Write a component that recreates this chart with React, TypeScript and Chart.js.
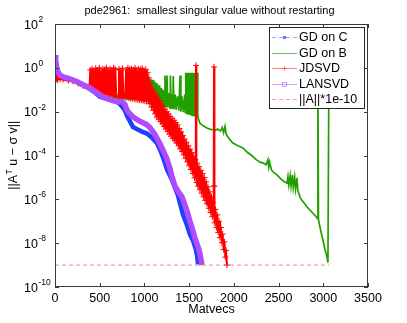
import React, { useEffect, useRef } from "react";
import { Chart, registerables } from "chart.js";

Chart.register(...registerables);

const FONT = "'Liberation Sans', Arial, Helvetica, sans-serif";

const chartTitle = "pde2961:  smallest singular value without restarting";
const xAxisTitle = "Matvecs";
const xTickValues = [0, 500, 1000, 1500, 2000, 2500, 3000, 3500];
const yTickExponents = [2, 0, -2, -4, -6, -8, -10];
const legendLabels = ["GD on C", "GD on B", "JDSVD", "LANSVD", "||A||*1e-10"];

type Pt = [number, number];

// GD on C : [matvecs, residual norm]
const gdOnC: Pt[] = [
  [0, 3.8], [8, 2.0], [20, 1.0], [34, 0.65], [56, 0.46], [90, 0.39], [150, 0.32], [201, 0.27],
  [260, 0.21], [313, 0.16], [391, 0.11], [447, 0.075], [503, 0.048], [560, 0.04], [648, 0.032],
  [700, 0.027], [727, 0.022], [760, 0.015], [783, 0.011], [805, 0.0065], [840, 0.0035], [872, 0.002],
  [930, 0.0015], [980, 0.0012], [1029, 0.001], [1085, 6.5e-4], [1140, 3.6e-4], [1175, 1.8e-4],
  [1207, 8.5e-5], [1252, 2.3e-5], [1308, 7.6e-6], [1340, 3.5e-6], [1375, 1.5e-6], [1400, 6e-7],
  [1431, 2e-7], [1476, 6.6e-8], [1509, 2.5e-8], [1543, 1.3e-8], [1570, 6e-9], [1588, 2.8e-9], [1600, 1.1e-9],
];

// GD on B
const gdOnB: Pt[] = [
  [0, 0.45], [20, 0.4], [56, 0.37], [150, 0.3], [246, 0.2], [313, 0.14], [391, 0.1], [470, 0.07],
  [560, 0.05], [650, 0.045], [750, 0.04], [850, 0.038], [950, 0.036], [1029, 0.034],
  [1033, 0.3], [1038, 0.032], [1042, 0.35], [1047, 0.03], [1051, 0.3], [1056, 0.029], [1060, 0.32],
  [1065, 0.028], [1069, 0.27], [1074, 0.027], [1078, 0.3], [1083, 0.026], [1087, 0.25], [1092, 0.025],
  [1096, 0.28], [1101, 0.025], [1105, 0.22], [1110, 0.024], [1114, 0.24], [1119, 0.023], [1123, 0.2],
  [1128, 0.023], [1132, 0.21], [1137, 0.022], [1141, 0.18], [1146, 0.021], [1150, 0.17], [1160, 0.02],
  [1170, 0.16], [1180, 0.019], [1190, 0.12], [1200, 0.018], [1210, 0.1], [1220, 0.017], [1230, 0.45],
  [1240, 0.016], [1252, 0.45], [1262, 0.015], [1272, 0.07], [1286, 0.014], [1290, 0.45], [1300, 0.014],
  [1310, 0.06], [1319, 0.013], [1322, 0.42], [1332, 0.013], [1345, 0.06], [1355, 0.012], [1370, 0.05],
  [1385, 0.011], [1398, 0.45], [1408, 0.01], [1420, 0.05], [1435, 0.0095], [1450, 0.06], [1458, 0.009],
  [1462, 0.6], [1466, 0.0088], [1470, 0.55], [1474, 0.0085], [1478, 0.6], [1482, 0.0083], [1486, 0.5],
  [1490, 0.008], [1494, 0.6], [1498, 0.0078], [1502, 0.58], [1506, 0.0076], [1510, 0.6], [1514, 0.0074],
  [1518, 0.55], [1522, 0.0072], [1526, 0.6], [1530, 0.007], [1534, 0.5], [1538, 0.0069], [1542, 0.6],
  [1546, 0.0068], [1550, 0.58], [1554, 0.0066], [1558, 0.6], [1562, 0.0065], [1566, 0.55], [1570, 0.0063],
  [1574, 0.6], [1578, 0.0062], [1582, 0.5], [1586, 0.006], [1590, 0.6], [1594, 0.0058], [1597, 0.55],
  [1599, 0.0056], [1621, 0.003],
  [1660, 0.0022], [1700, 0.0018], [1730, 0.0016], [1766, 0.0015], [1790, 0.0014], [1820, 0.0016],
  [1850, 0.0013], [1870, 0.0019], [1885, 0.0011], [1901, 0.0021], [1915, 0.0009], [1935, 0.0007],
  [1960, 0.0005], [1990, 0.00037], [2030, 0.0003], [2070, 0.00025], [2102, 0.00022], [2150, 0.00014],
  [2200, 0.0001], [2250, 6.5e-5], [2292, 5e-5], [2330, 4.5e-5], [2360, 3.8e-5], [2381, 6.5e-5],
  [2390, 3e-5], [2400, 5e-5], [2420, 2.2e-5], [2450, 1.6e-5], [2482, 1.3e-5], [2520, 9e-6],
  [2560, 6.5e-6], [2594, 5.5e-6], [2605, 1.1e-5], [2615, 4.5e-6], [2630, 1.2e-5], [2640, 4e-6],
  [2655, 1.3e-5], [2665, 3.5e-6], [2680, 1e-5], [2690, 3e-6], [2706, 9.5e-6], [2715, 2.5e-6],
  [2739, 1.3e-6], [2760, 9e-7], [2790, 6.5e-7], [2820, 4.5e-7], [2851, 3.2e-7], [2890, 2.2e-7],
  [2920, 1.6e-7], [2935, 1.3e-7], [2940, 1.0], [2946, 1.2e-7], [2970, 4e-8], [2996, 1.4e-8],
  [3020, 5e-9], [3040, 2.5e-9], [3052, 1.3e-9], [3063, 1.0],
];

// JDSVD
const jdsvd: Pt[] = [
  [0, 0.9], [5, 0.35], [10, 0.7], [15, 0.3], [22, 0.55], [30, 0.3], [40, 0.42], [56, 0.3], [90, 0.29],
  [150, 0.26], [201, 0.24], [260, 0.19], [313, 0.15], [360, 0.13], [385, 0.12],
  [395, 0.8], [405, 0.1], [415, 0.9], [425, 0.095], [435, 0.75], [445, 0.09], [455, 0.95], [465, 0.085],
  [475, 0.8], [485, 0.08], [495, 1.0], [505, 0.078], [515, 0.7], [525, 0.075], [535, 0.9], [545, 0.07],
  [555, 0.85], [565, 0.065], [575, 1.0], [585, 0.062], [595, 0.75], [605, 0.06], [615, 0.9], [625, 0.058],
  [635, 0.8], [645, 0.055], [655, 1.0], [665, 0.053], [675, 0.85], [685, 0.05], [705, 0.05], [715, 0.9],
  [725, 0.048], [735, 0.75], [745, 0.046], [755, 0.95], [765, 0.045], [785, 0.045], [795, 0.8],
  [805, 0.044], [815, 1.0], [825, 0.042], [835, 0.85], [845, 0.04], [855, 0.9], [865, 0.039], [875, 0.8],
  [885, 0.038], [895, 1.0], [905, 0.036], [915, 0.7], [925, 0.035], [935, 0.9], [945, 0.034], [955, 0.85],
  [965, 0.033], [975, 0.95], [985, 0.032], [995, 0.75], [1005, 0.031], [1015, 0.85], [1025, 0.03],
  [1035, 0.6], [1045, 0.03],
  [1050, 0.35], [1060, 0.023], [1070, 0.19], [1080, 0.016], [1090, 0.11], [1100, 0.0115],
  [1110, 0.079], [1120, 0.0079], [1130, 0.059], [1140, 0.0056], [1150, 0.043], [1160, 0.0045],
  [1170, 0.032], [1180, 0.0035], [1190, 0.023], [1200, 0.0028], [1210, 0.017], [1220, 0.0021],
  [1230, 0.013], [1240, 0.0016], [1250, 0.01], [1260, 0.00126], [1270, 0.0078], [1280, 9.5e-4],
  [1290, 0.006], [1300, 7.6e-4], [1310, 0.0049], [1320, 6e-4], [1330, 0.004], [1340, 4.7e-4],
  [1350, 0.0032], [1360, 3.7e-4], [1370, 0.0025], [1380, 2.8e-4], [1390, 0.0017], [1400, 2.0e-4],
  [1410, 0.0012], [1420, 1.5e-4], [1430, 8.1e-4], [1440, 1.07e-4], [1450, 5.6e-4], [1460, 7.4e-5],
  [1470, 4e-4], [1480, 5.1e-5], [1490, 2.8e-4], [1500, 3.4e-5], [1510, 1.95e-4], [1520, 2.3e-5],
  [1530, 1.35e-4], [1540, 1.5e-5], [1550, 9.3e-5], [1560, 9.5e-6], [1570, 6.5e-5], [1574, 3e-5],
  [1577, 1.3], [1580, 3e-5], [1582, 5.8e-6], [1590, 4.5e-5], [1600, 4e-6], [1610, 3.1e-5],
  [1620, 2.75e-6], [1630, 2.1e-5], [1640, 1.9e-6], [1650, 1.5e-5], [1660, 1.3e-6], [1670, 1.0e-5],
  [1680, 8.9e-7], [1690, 6.3e-6], [1700, 6.2e-7], [1710, 3.7e-6], [1720, 3.9e-7], [1730, 2.2e-6],
  [1740, 2.5e-7], [1750, 1.3e-6], [1760, 1.6e-7], [1770, 7.3e-7], [1775, 4e-6], [1778, 1.1],
  [1781, 4e-6], [1785, 8.5e-8], [1795, 3.5e-7], [1805, 5.1e-8], [1815, 1.95e-7], [1825, 3.1e-8],
  [1835, 1.0e-7], [1845, 1.8e-8], [1855, 5.2e-8], [1865, 1.05e-8], [1875, 2.6e-8], [1885, 5.1e-9],
  [1895, 1.15e-8], [1905, 2.3e-9], [1912, 4.7e-9], [1923, 1e-9],
];

// LANSVD
const lansvd: Pt[] = [
  [0, 3.8], [8, 2.0], [20, 1.0], [34, 0.65], [56, 0.46], [90, 0.39], [150, 0.33], [201, 0.28],
  [260, 0.22], [313, 0.17], [391, 0.12], [470, 0.072], [537, 0.047], [600, 0.037], [648, 0.032],
  [693, 0.028], [750, 0.028], [783, 0.021], [800, 0.013], [825, 0.009], [860, 0.0065], [894, 0.005],
  [940, 0.0038], [973, 0.0033], [1029, 0.0025], [1060, 0.0019], [1085, 0.0014], [1110, 0.001],
  [1140, 6.2e-4], [1175, 3.3e-4], [1207, 1.8e-4], [1230, 1.1e-4], [1252, 7e-5], [1286, 2.5e-5],
  [1308, 1.1e-5], [1342, 4e-6], [1375, 2.4e-6], [1420, 1.3e-6], [1453, 5.5e-7], [1476, 3e-7],
  [1509, 1e-7], [1540, 4e-8], [1565, 1.7e-8], [1599, 7e-9], [1620, 3.5e-9], [1643, 1e-9],
];

// ||A|| * 1e-10 reference level
const normLine: Pt[] = [[0, 1e-9], [3063, 1e-9]];

const COLORS = {
  gdOnC: "#2040ff",
  gdOnB: "#22a000",
  jdsvd: "#ff0000",
  lansvd: "#b04cff",
  norm: "rgba(255,90,90,0.75)",
};

const toXY = (pts: Pt[]) => pts.map(([x, y]) => ({ x, y }));

const decorPlugin = {
  id: "decor",
  afterDatasetsDraw(chart: any) {
    const ctx = chart.ctx as CanvasRenderingContext2D;
    const { left, right, top, bottom } = chart.chartArea;
    const xs = chart.scales.x;
    const ys = chart.scales.y;
    ctx.save();

    // legend box
    const lx0 = right - 99;
    const lx1 = right - 3;
    const ly0 = top + 3;
    const ly1 = top + 85;
    ctx.fillStyle = "#ffffff";
    ctx.fillRect(lx0, ly0, lx1 - lx0, ly1 - ly0);
    ctx.strokeStyle = "#262626";
    ctx.lineWidth = 1;
    ctx.strokeRect(lx0 + 0.5, ly0 + 0.5, lx1 - lx0 - 1, ly1 - ly0 - 1);
    const sampleColors = [
      "rgba(70,100,255,0.55)",
      "rgba(40,170,40,0.7)",
      "rgba(255,50,50,0.6)",
      "rgba(185,90,255,0.6)",
      "rgba(255,90,90,0.6)",
    ];
    const dashes = [[4, 3], [], [], [], [4, 3]];
    ctx.font = `12.5px ${FONT}`;
    ctx.textAlign = "left";
    ctx.textBaseline = "middle";
    for (let i = 0; i < legendLabels.length; i++) {
      const yy = Math.round(ly0 + 10 + i * 15.6) + 0.5;
      const sx0 = lx0 + 3;
      const sx1 = lx0 + 28;
      const mx = (sx0 + sx1) / 2;
      ctx.strokeStyle = sampleColors[i];
      ctx.lineWidth = 1;
      ctx.setLineDash(dashes[i]);
      ctx.beginPath();
      ctx.moveTo(sx0, yy);
      ctx.lineTo(sx1, yy);
      ctx.stroke();
      ctx.setLineDash([]);
      if (i === 0) {
        ctx.fillStyle = "rgba(60,90,255,0.8)";
        ctx.fillRect(mx - 1.5, yy - 1.5, 3, 3);
      } else if (i === 2) {
        ctx.beginPath();
        ctx.moveTo(mx - 2.5, yy);
        ctx.lineTo(mx + 2.5, yy);
        ctx.moveTo(mx, yy - 2.5);
        ctx.lineTo(mx, yy + 2.5);
        ctx.stroke();
      } else if (i === 3) {
        ctx.strokeRect(mx - 2, yy - 2, 4, 4);
      }
      ctx.fillStyle = "#000";
      ctx.fillText(legendLabels[i], lx0 + 30, yy + 0.5);
    }

    // axes frame
    ctx.strokeStyle = "#3a3a3a";
    ctx.lineWidth = 1;
    ctx.strokeRect(left + 0.5, top + 0.5, right - left - 1, bottom - top - 1);

    // inward ticks
    const tl = 4;
    ctx.beginPath();
    for (const v of xTickValues) {
      const px = Math.round(xs.getPixelForValue(v)) + 0.5;
      ctx.moveTo(px, bottom);
      ctx.lineTo(px, bottom - tl);
      ctx.moveTo(px, top);
      ctx.lineTo(px, top + tl);
    }
    for (const e of yTickExponents) {
      const py = Math.round(ys.getPixelForValue(Math.pow(10, e))) + 0.5;
      ctx.moveTo(left, py);
      ctx.lineTo(left + tl, py);
      ctx.moveTo(right, py);
      ctx.lineTo(right - tl, py);
    }
    ctx.stroke();

    // x tick labels
    ctx.fillStyle = "#000";
    ctx.font = `12.5px ${FONT}`;
    ctx.textAlign = "center";
    ctx.textBaseline = "alphabetic";
    for (const v of xTickValues) {
      ctx.fillText(String(v), xs.getPixelForValue(v), bottom + 15);
    }

    // y tick labels 10^e
    ctx.textAlign = "left";
    for (const e of yTickExponents) {
      const py = ys.getPixelForValue(Math.pow(10, e));
      ctx.font = `12.5px ${FONT}`;
      ctx.fillText("10", 24, py + 4.5);
      const w = ctx.measureText("10").width;
      ctx.font = `8.5px ${FONT}`;
      ctx.fillText(String(e), 24 + w + 0.5, py - 2);
    }

    // x axis title
    ctx.font = `12.5px ${FONT}`;
    ctx.textAlign = "center";
    ctx.fillText(xAxisTitle, (left + right) / 2, bottom + 26);

    // y axis title: ||A^T u − σ v||
    ctx.save();
    ctx.translate(17, (top + bottom) / 2);
    ctx.rotate(-Math.PI / 2);
    ctx.textAlign = "left";
    const p1 = "||A";
    const p2 = "T";
    const p3 = " u \u2212 \u03c3 v||";
    ctx.font = `12.5px ${FONT}`;
    const w1 = ctx.measureText(p1).width;
    const w3 = ctx.measureText(p3).width;
    ctx.font = `8.5px ${FONT}`;
    const w2 = ctx.measureText(p2).width;
    const start = -(w1 + w2 + w3) / 2;
    ctx.font = `12.5px ${FONT}`;
    ctx.fillText(p1, start, 0);
    ctx.font = `8.5px ${FONT}`;
    ctx.fillText(p2, start + w1 + 0.5, -5);
    ctx.font = `12.5px ${FONT}`;
    ctx.fillText(p3, start + w1 + w2 + 0.5, 0);
    ctx.restore();

    // title
    ctx.font = `11px ${FONT}`;
    ctx.textAlign = "center";
    ctx.fillText(chartTitle, (left + right) / 2 - 2, 14);

    ctx.restore();
  },
};

export default function App() {
  const canvasRef = useRef<HTMLCanvasElement | null>(null);

  useEffect(() => {
    document.body.style.margin = "0";
    const canvas = canvasRef.current;
    if (!canvas) return;
    const chart = new Chart(canvas, {
      type: "scatter",
      data: {
        datasets: [
          {
            label: legendLabels[4],
            data: toXY(normLine),
            showLine: true,
            borderColor: COLORS.norm,
            borderWidth: 1,
            borderDash: [4, 3],
            pointRadius: 0,
            order: 0,
          },
          {
            label: legendLabels[3],
            data: toXY(lansvd),
            showLine: true,
            borderColor: COLORS.lansvd,
            borderWidth: 5.5,
            pointRadius: 0,
            order: 1,
          },
          {
            label: legendLabels[2],
            data: toXY(jdsvd),
            showLine: true,
            borderColor: COLORS.jdsvd,
            borderWidth: 2,
            pointStyle: "cross",
            pointRadius: 3,
            pointBorderColor: COLORS.jdsvd,
            pointBorderWidth: 1,
            order: 2,
          },
          {
            label: legendLabels[1],
            data: toXY(gdOnB),
            showLine: true,
            borderColor: COLORS.gdOnB,
            borderWidth: 1.7,
            pointRadius: 0,
            order: 3,
          },
          {
            label: legendLabels[0],
            data: toXY(gdOnC),
            showLine: true,
            borderColor: COLORS.gdOnC,
            borderWidth: 4.5,
            pointRadius: 0,
            order: 4,
          },
        ],
      },
      options: {
        animation: false,
        responsive: false,
        devicePixelRatio: 1,
        events: [],
        layout: { padding: { top: 24, right: 39, left: 0, bottom: 0 } },
        plugins: {
          legend: { display: false },
          title: { display: false },
          tooltip: { enabled: false },
        },
        scales: {
          x: {
            type: "linear",
            min: 0,
            max: 3500,
            ticks: { display: false },
            grid: { display: false },
            border: { display: false },
            afterFit: (s: any) => {
              s.height = 36;
            },
          },
          y: {
            type: "logarithmic",
            min: 1e-10,
            max: 1e2,
            ticks: { display: false },
            grid: { display: false },
            border: { display: false },
            afterFit: (s: any) => {
              s.width = 55;
            },
          },
        },
      },
      plugins: [decorPlugin],
    } as any);
    return () => chart.destroy();
  }, []);

  return (
    <div style={{ width: 407, height: 323, background: "#fff" }}>
      <canvas ref={canvasRef} width={407} height={323} style={{ display: "block" }} />
    </div>
  );
}
